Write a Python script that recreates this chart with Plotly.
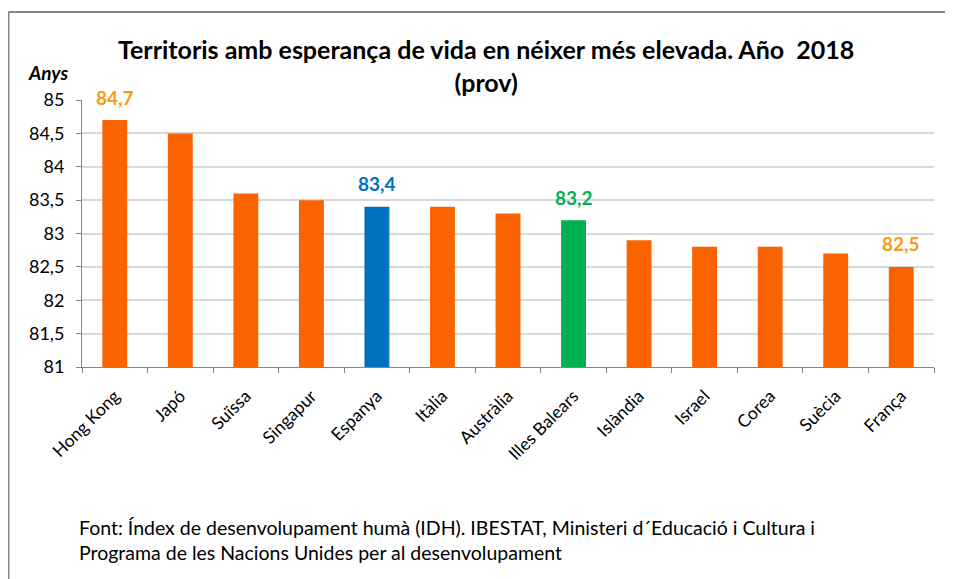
import plotly.graph_objects as go

categories = ["Hong Kong", "Japó", "Suïssa", "Singapur", "Espanya", "Itàlia", "Austràlia",
              "Illes Balears", "Islàndia", "Israel", "Corea", "Suècia", "França"]
values = [84.7, 84.5, 83.6, 83.5, 83.4, 83.4, 83.3, 83.2, 82.9, 82.8, 82.8, 82.7, 82.5]
highlight_colors = {"Espanya": "#0070C0", "Illes Balears": "#00B050"}
labelled = {"Hong Kong": "#F79A16", "Espanya": "#0070C0", "Illes Balears": "#00B050", "França": "#F79A16"}
y_ticks = [81, 81.5, 82, 82.5, 83, 83.5, 84, 84.5, 85]
y_ticktext = ["81", "81,5", "82", "82,5", "83", "83,5", "84", "84,5", "85"]

ORANGE = "#FA6400"
bar_colors = [highlight_colors.get(c, ORANGE) for c in categories]

W, H = 953, 579
OX, OY = 9, 8  # page offset of the figure inside the window
FONT = "Lato"


def px(x):
    return (x - OX) / W


def py(y):
    return 1 - (y - OY) / H


fig = go.Figure()
fig.add_trace(go.Bar(x=categories, y=values, marker=dict(color=bar_colors, line=dict(width=0)),
                     width=0.38, hoverinfo="x+y"))

for c, v in zip(categories, values):
    if c in labelled:
        fig.add_annotation(x=c, y=v, text=f"<b>{v:.1f}</b>".replace(".", ","), showarrow=False,
                           yanchor="middle", yshift=23,
                           font=dict(family=FONT, size=19, color=labelled[c]))

fig.update_layout(
    width=W, height=H, autosize=False,
    margin=dict(l=0, r=0, t=0, b=0, pad=0),
    paper_bgcolor="white", plot_bgcolor="white",
    showlegend=False,
    separators=",.",
    xaxis=dict(domain=[px(83), px(935)], showline=True, linecolor="#868686", linewidth=1,
               ticks="outside", tickson="boundaries", ticklen=5, tickcolor="#868686",
               tickangle=-45, tickfont=dict(family=FONT, size=17.5, color="#000000"),
               ticklabelstandoff=11,
               showgrid=False, range=[-0.5, 12.5], automargin=False),
    yaxis=dict(domain=[py(367), py(100)], range=[81, 85], tickvals=y_ticks, ticktext=y_ticktext,
               showline=True, linecolor="#868686", linewidth=1, ticks="outside", ticklen=5,
               tickcolor="#868686", gridcolor="#D9D9D9", gridwidth=2, automargin=False,
               ticklabelstandoff=8,
               tickfont=dict(family=FONT, size=18, color="#000000"), zeroline=False),
    font=dict(family=FONT),
)

# title
fig.add_annotation(xref="paper", yref="paper", x=px(487), y=py(66), xanchor="center", yanchor="middle",
                   text="<b>Territoris amb esperança de vida en néixer més elevada. Año  2018<br>(prov)</b>",
                   showarrow=False, align="center",
                   font=dict(family=FONT, size=25, color="#000000"))
# axis unit
fig.add_annotation(xref="paper", yref="paper", x=px(27), y=py(72), xanchor="left", yanchor="middle",
                   text="<b><i>Anys</i></b>", showarrow=False,
                   font=dict(family=FONT, size=19, color="#000000"))
# footer
fig.add_annotation(xref="paper", yref="paper", x=px(78), y=py(540), xanchor="left", yanchor="middle",
                   text="Font: Índex de desenvolupament humà (IDH). IBESTAT, Ministeri d´Educació i Cultura i<br>"
                        "Programa de les Nacions Unides per al desenvolupament",
                   showarrow=False, align="left",
                   font=dict(family=FONT, size=19.5, color="#000000"))

# outer frame (top and left edges visible)
fig.add_shape(type="line", xref="paper", yref="paper", x0=px(9.5), x1=1, y0=py(12), y1=py(12),
              line=dict(color="#868686", width=2), layer="below")
fig.add_shape(type="line", xref="paper", yref="paper", x0=px(9.5), x1=px(9.5), y0=0, y1=py(12),
              line=dict(color="#868686", width=2), layer="below")

fig.write_html("out.html")
